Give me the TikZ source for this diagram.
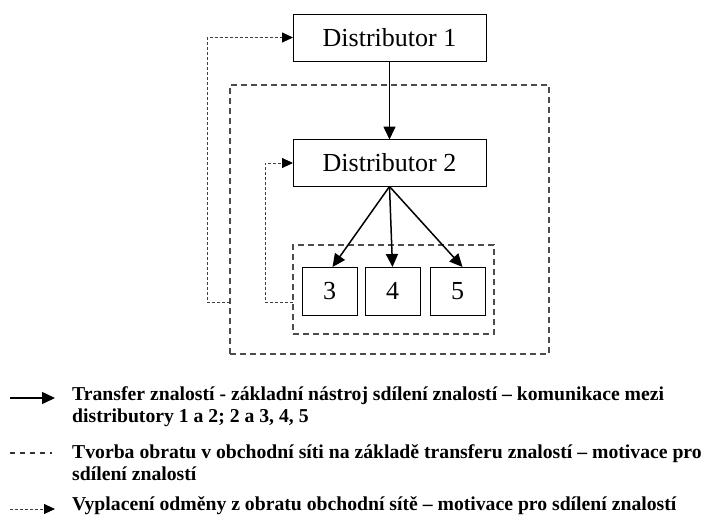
\documentclass[tikz,border=0pt]{standalone}
\usepackage{fontspec}
\setmainfont{Liberation Serif}
\usetikzlibrary{arrows.meta,calc}
\tikzset{
  box/.style={draw=black, line width=0.9pt, inner sep=0pt, outer sep=0pt, font=\fontsize{26}{30}\selectfont},
  grp/.style={draw=black!70, line width=1.4pt, dash pattern=on 6pt off 4pt, inner sep=0pt, outer sep=0pt},
  flow/.style={line width=1.5pt, -{Triangle[length=13pt,width=12pt]}},
  pay/.style={draw=black!75, line width=0.9pt, dash pattern=on 3pt off 2pt, -{Triangle[length=11pt,width=10pt,fill=black,color=black]}},
  leg/.style={anchor=base west, inner sep=0pt, font=\fontsize{19.7}{22}\selectfont\bfseries},
}
\begin{document}
\begin{tikzpicture}[x=1pt,y=-1pt]
\useasboundingbox (0,0) rectangle (709,515);
% group boxes
\node[grp, minimum width=319pt, minimum height=269pt] (outer) at (389.5,219.5) {};
\node[grp, minimum width=201pt, minimum height=89pt] (inner) at (393.5,289.5) {};
% nodes
\node[box, minimum width=193pt, minimum height=47pt] (d1) at (389.5,37.5) {Distributor 1};
\node[box, minimum width=193pt, minimum height=47pt] (d2) at (389.5,163) {Distributor 2};
\node[box, minimum width=55pt, minimum height=48pt] (n3) at (329.5,291) {3};
\node[box, minimum width=55pt, minimum height=48pt] (n4) at (392.5,291) {4};
\node[box, minimum width=55pt, minimum height=48pt] (n5) at (457.5,291) {5};
% knowledge transfer
\draw[flow] (d1.south) -- (d2.north);
\draw[flow] (d2.south) -- ($(n3.north)+(3,0)$);
\draw[flow] (d2.south) -- (n4.north);
\draw[flow] (d2.south) -- ($(n5.north)+(5,0)$);
% reward payments
\coordinate (o1) at (outer.west |- 0,302);
\coordinate (o2) at (207,302);
\coordinate (o3) at (207,37.5);
\draw[pay] (o1) -- (o2) -- (o3) -- (d1.west);
\coordinate (i1) at (inner.west |- 0,302);
\coordinate (i2) at (265,302);
\coordinate (i3) at (265,163);
\draw[pay] (i1) -- (i2) -- (i3) -- (d2.west);
% legend
\coordinate (la1) at (10,398); \coordinate (la2) at (55,398);
\draw[flow] (la1) -- (la2);
\node[leg] (l1) at (72,400) {Transfer znalostí - základní nástroj sdílení znalostí – komunikace mezi};
\node[leg] (l1b) at (72,422) {distributory 1 a 2; 2 a 3, 4, 5};
\coordinate (lb1) at (10,453); \coordinate (lb2) at (52,453);
\draw[line width=1.2pt, draw=black!80, dash pattern=on 5pt off 5pt] (lb1) -- (lb2);
\node[leg] (l2) at (72,458) {Tvorba obratu v obchodní síti na základě transferu znalostí – motivace pro};
\node[leg] (l2b) at (72,480) {sdílení znalostí};
\coordinate (lc1) at (10,509); \coordinate (lc2) at (55,509);
\draw[pay] (lc1) -- (lc2);
\node[leg] (l3) at (72,510) {Vyplacení odměny z obratu obchodní sítě – motivace pro sdílení znalostí};
\end{tikzpicture}
\end{document}
